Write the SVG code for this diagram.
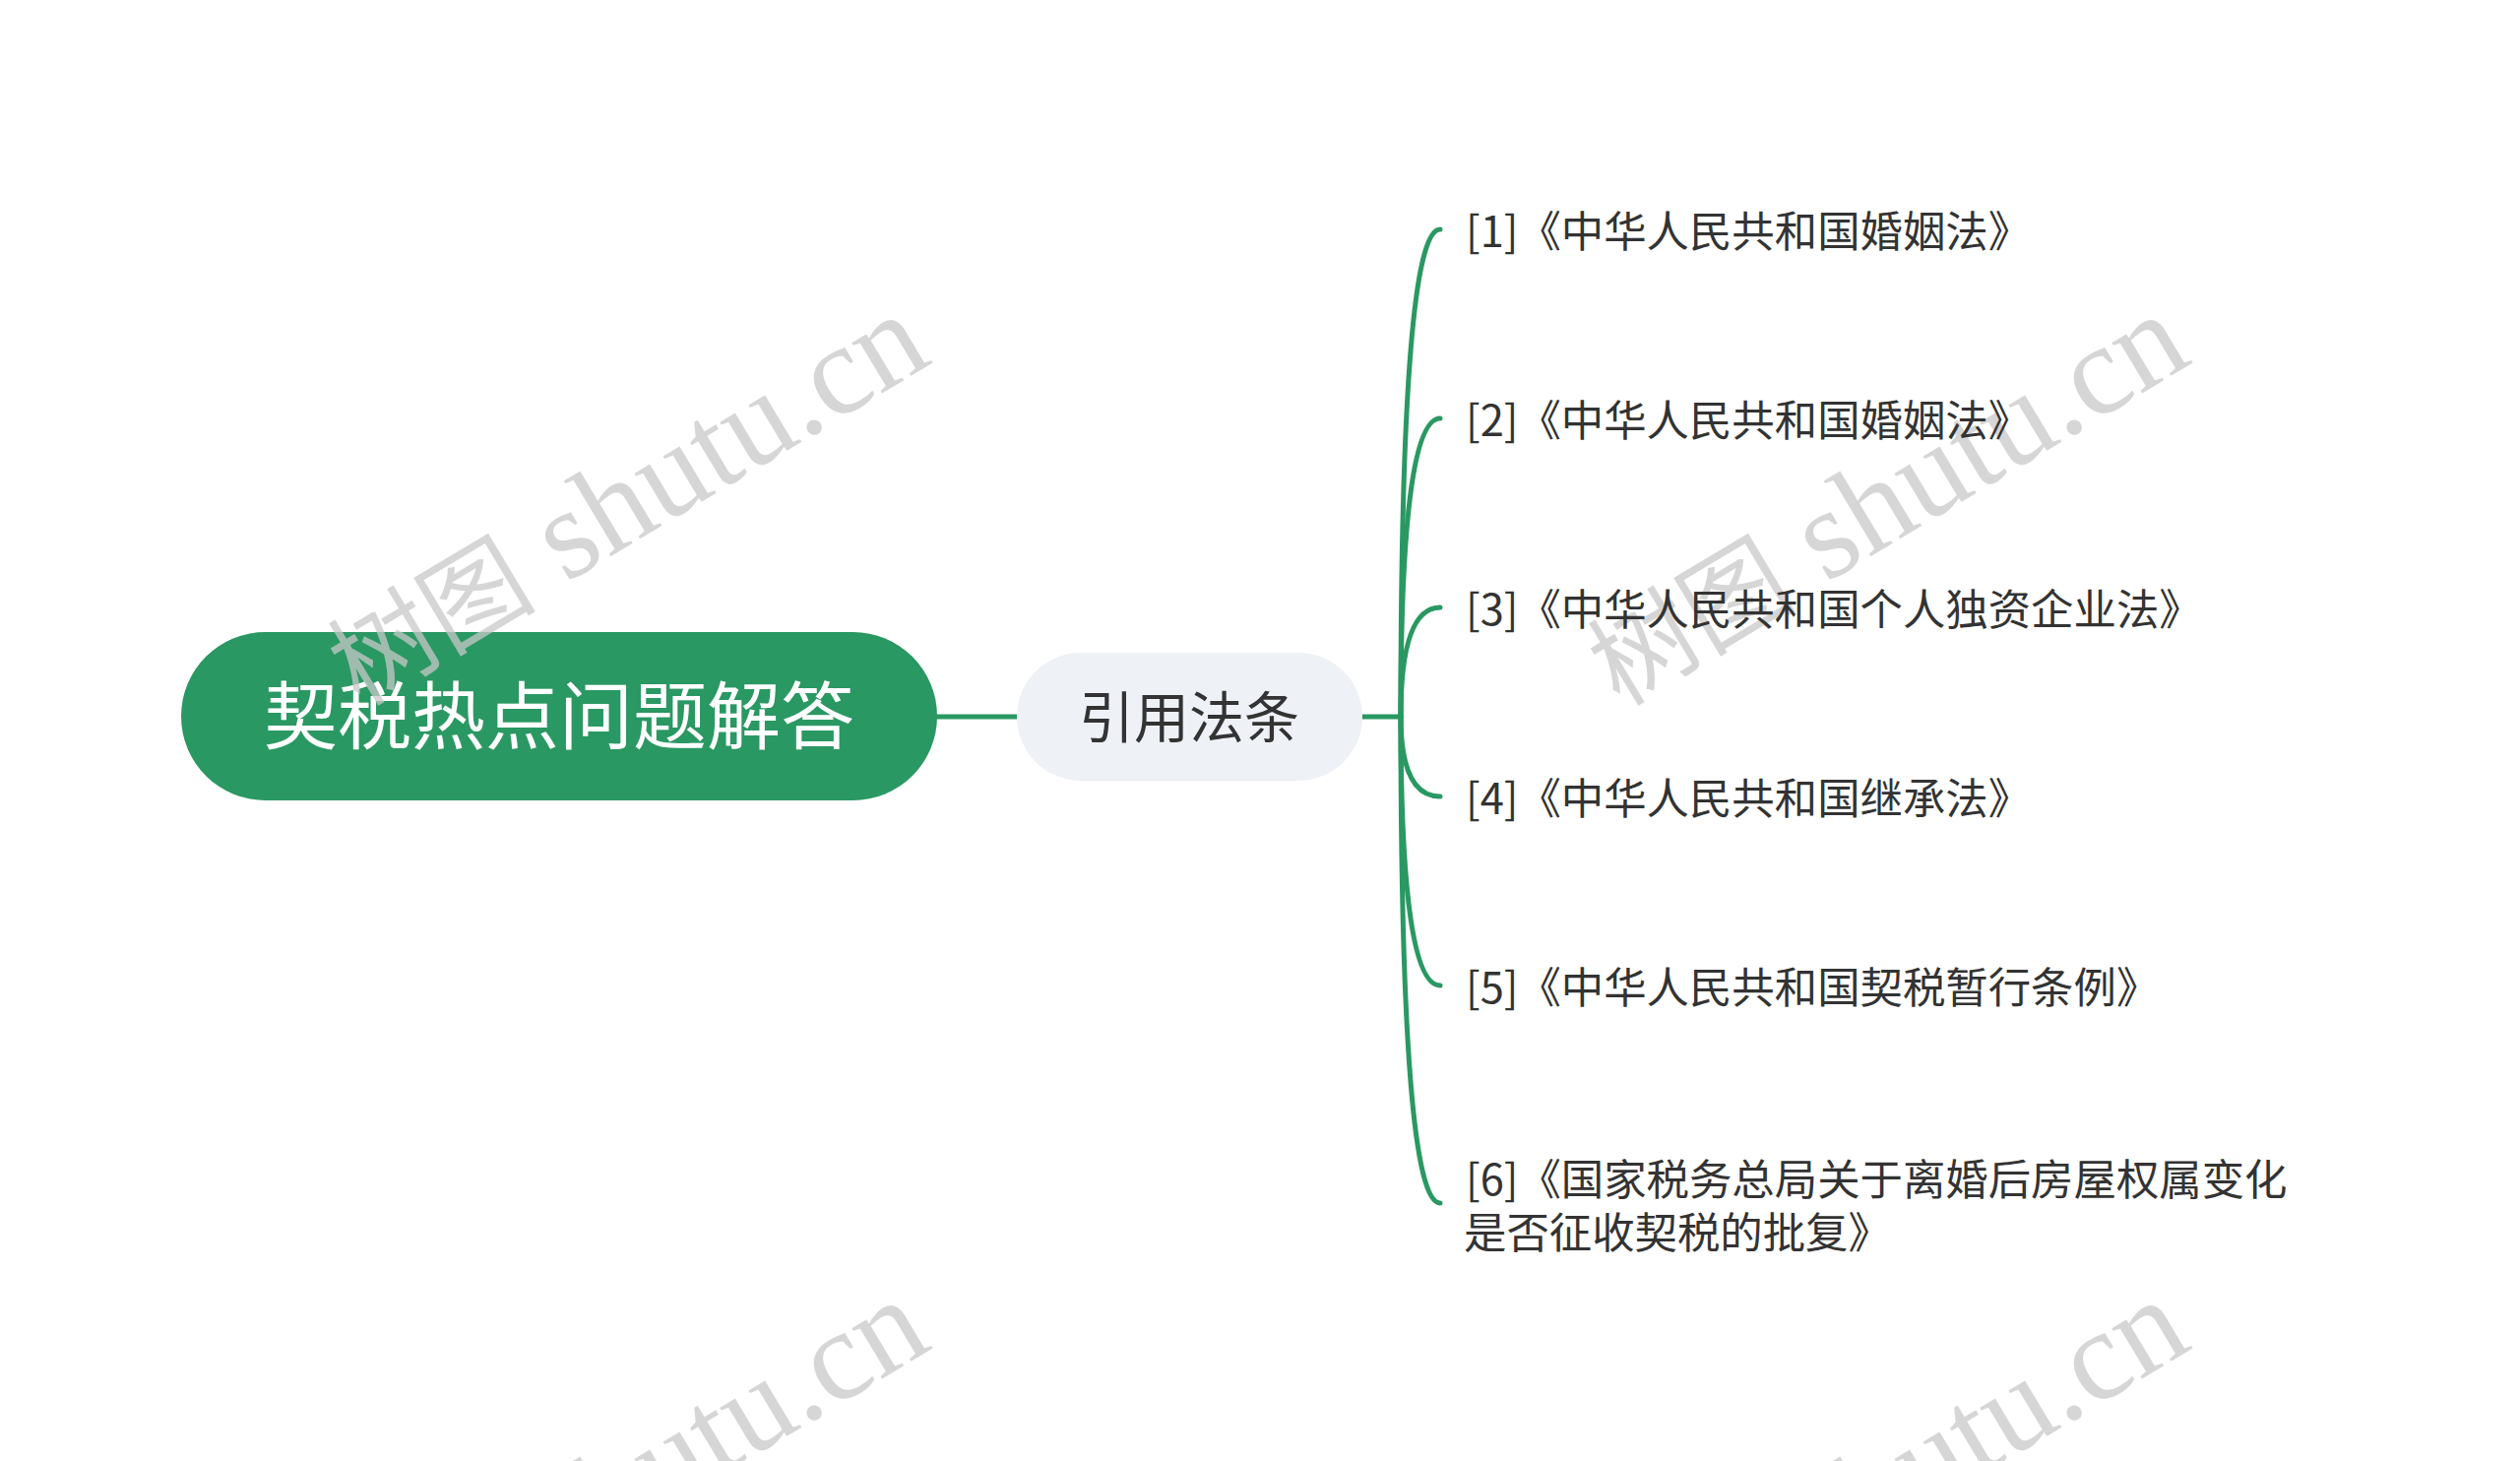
<svg xmlns="http://www.w3.org/2000/svg" width="2560" height="1484" viewBox="0 0 2560 1484">
<style>
.bg{fill:#ffffff}
.conn{fill:none;stroke:#2a9862;stroke-width:5;stroke-linecap:round}
.root-shape{fill:#2a9862}
.mid-shape{fill:#eef1f5}
.root-text{font-family:"Noto Sans CJK SC","Noto Sans",sans-serif;font-size:75px;fill:#ffffff;text-anchor:middle}
.mid-text{font-family:"Noto Sans CJK SC","Noto Sans",sans-serif;font-size:56px;fill:#333333;text-anchor:middle}
.leaf-text{font-family:"Noto Sans CJK SC","Noto Sans",sans-serif;font-size:43.4px;fill:#333333}
.wm{font-family:"Liberation Serif","Noto Sans CJK SC",serif;font-size:130px;fill:#c8c8c8;fill-opacity:0.75;text-anchor:end}
.wm-cjk{font-size:106px}
</style>
<rect class="bg" x="0" y="0" width="2560" height="1484"/>
<g id="connectors">
<line class="conn" x1="952" y1="728" x2="1033" y2="728"/>
<line class="conn" x1="1384" y1="728" x2="1423" y2="728"/>
<path class="conn" d="M1423 728 Q1423 233 1463 233"/>
<path class="conn" d="M1423 728 Q1423 425 1463 425"/>
<path class="conn" d="M1423 728 Q1423 617 1463 617"/>
<path class="conn" d="M1423 728 Q1423 809 1463 809"/>
<path class="conn" d="M1423 728 Q1423 1001 1463 1001"/>
<path class="conn" d="M1423 728 Q1423 1222 1463 1222"/>
</g>
<g id="node-root">
<rect class="root-shape" x="184" y="642" width="768" height="171" rx="85.5" ry="85.5"/>
<text class="root-text" x="568" y="755">契税热点问题解答</text>
</g>
<g id="watermarks">
<text class="wm" transform="translate(827,434) rotate(-31)" x="139" y="6"><tspan class="wm-cjk">树图</tspan> shutu.cn</text>
<text class="wm" transform="translate(2107,434) rotate(-31)" x="139" y="6"><tspan class="wm-cjk">树图</tspan> shutu.cn</text>
<text class="wm" transform="translate(827,1435) rotate(-31)" x="139" y="6"><tspan class="wm-cjk">树图</tspan> shutu.cn</text>
<text class="wm" transform="translate(2107,1435) rotate(-31)" x="139" y="6"><tspan class="wm-cjk">树图</tspan> shutu.cn</text>
</g>
<g id="node-yinyong">
<rect class="mid-shape" x="1033" y="663" width="351" height="130" rx="65" ry="65"/>
<text class="mid-text" x="1208" y="749">引用法条</text>
</g>
<g id="leaf-1"><text class="leaf-text" x="1489" y="251">[1]《中华人民共和国婚姻法》</text></g>
<g id="leaf-2"><text class="leaf-text" x="1489" y="443">[2]《中华人民共和国婚姻法》</text></g>
<g id="leaf-3"><text class="leaf-text" x="1489" y="635">[3]《中华人民共和国个人独资企业法》</text></g>
<g id="leaf-4"><text class="leaf-text" x="1489" y="827">[4]《中华人民共和国继承法》</text></g>
<g id="leaf-5"><text class="leaf-text" x="1489" y="1019">[5]《中华人民共和国契税暂行条例》</text></g>
<g id="leaf-6"><text class="leaf-text" x="1489" y="1214">[6]《国家税务总局关于离婚后房屋权属变化</text><text class="leaf-text" x="1487" y="1268">是否征收契税的批复》</text></g>
</svg>
